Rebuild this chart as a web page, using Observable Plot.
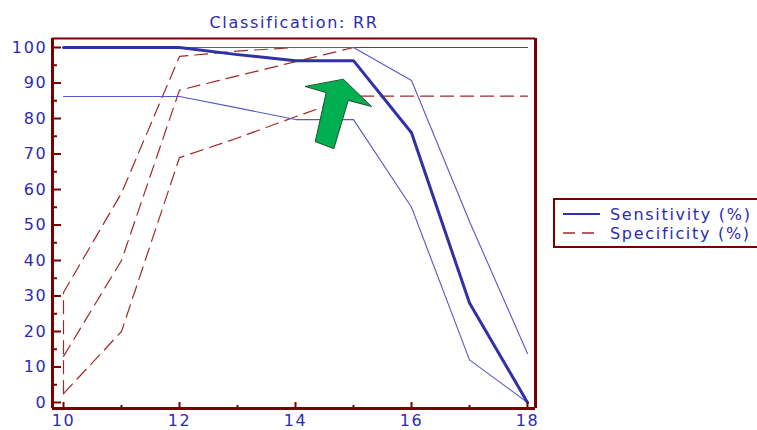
<!DOCTYPE html>
<html><head><meta charset="utf-8">
<script src="https://cdn.jsdelivr.net/npm/d3@7"></script>
<script src="https://cdn.jsdelivr.net/npm/@observablehq/plot@0.6"></script>
<style>
html,body{margin:0;padding:0;background:#fff;overflow:hidden;}
#wrap{position:relative;width:757px;height:430px;overflow:hidden;}
#legend{position:absolute;left:553px;top:198px;}
svg text{letter-spacing:1.7px;}
</style></head><body><div id="wrap"></div>
<script>
// ---- data ----
const titleText = ["Classification: RR"];
const thresholds = [10, 11, 12, 13, 14, 15, 16, 17, 18];
const sensitivity = [100, 100, 100, 98, 96.3, 96.3, 76, 28, 0];
const sensUpper   = [100, 100, 100, 100, 100, 100, 90.7, 51, 13.8];
const sensLower   = [86.2, 86.2, 86.2, 83, 79.7, 79.7, 55, 12, 0];
const specificity = [13, 40, 88, 92, 96, 100, 100, 100, 100];
const specLower   = [2.5, 20, 69, 74.5, 80.5, 86.3, 86.3, 86.3, 86.3];
const specUpperX  = [10, 10, 11, 12, 13, 14, 15, 16, 17, 18];
const specUpper   = [2.5, 31, 59, 97.5, 99, 100, 100, 100, 100, 100];
const xTicks = [10, 12, 14, 16, 18];
const xMinor = [11, 13, 15, 17];
const yTicks = [0, 10, 20, 30, 40, 50, 60, 70, 80, 90, 100];
const yMinor = [5, 15, 25, 35, 45, 55, 65, 75, 85, 95];
const legendLabels = ["Sensitivity (%)", "Specificity (%)"];
// annotation arrow outline (data units)
const arrowX = [14.83, 15.31, 14.91, 14.66, 14.34, 14.53, 14.17];
const arrowY = [91.0, 83.4, 85.1, 71.5, 73.5, 87.3, 89.0];

// ---- styling ----
const maroon = "#7a0000";
const textBlue = "#2b2bb2";
const thickBlue = "#3030a8";
const thinBlue = "#5858c4";
const dashRed = "#a02828";
const green = "#00b050";

const toRows = (xs, ys) => xs.map((x, i) => ({x, y: ys[i]}));
const pxX = 58, pxY = 3.55; // pixels per data unit
const xDomain = [10 - 11/pxX, 18 + 8/pxX];
const yDomain = [-1.69, 102.54];

const plot = Plot.plot({
  width: 757, height: 430,
  marginLeft: 52, marginRight: 222, marginTop: 38, marginBottom: 22,
  style: {fontFamily: "DejaVu Sans", fontSize: "16px", color: textBlue, background: "white", overflow: "visible"},
  x: {domain: xDomain, label: null},
  y: {domain: yDomain, label: null},
  marks: [
    Plot.line(toRows(specUpperX, specUpper), {x: "x", y: "y", stroke: dashRed, strokeWidth: 1.2, strokeDasharray: "13,7"}),
    Plot.line(toRows(thresholds, specificity), {x: "x", y: "y", stroke: dashRed, strokeWidth: 1.2, strokeDasharray: "13,7"}),
    Plot.line(toRows(thresholds, specLower), {x: "x", y: "y", stroke: dashRed, strokeWidth: 1.2, strokeDasharray: "13,7"}),
    Plot.line(toRows(thresholds, sensUpper), {x: "x", y: "y", stroke: thinBlue, strokeWidth: 1.1}),
    Plot.line(toRows(thresholds, sensLower), {x: "x", y: "y", stroke: thinBlue, strokeWidth: 1.1}),
    Plot.line(toRows(thresholds, sensitivity), {x: "x", y: "y", stroke: thickBlue, strokeWidth: 3}),
    Plot.line(toRows(arrowX, arrowY), {x: "x", y: "y", fill: green, stroke: "#1f4f2c", strokeWidth: 1, curve: "linear-closed"}),
    // frame
    Plot.ruleY([yDomain[1]], {stroke: maroon, strokeWidth: 2}),
    Plot.ruleX([xDomain[1]], {stroke: maroon, strokeWidth: 3}),
    Plot.ruleX([xDomain[0]], {stroke: maroon, strokeWidth: 3}),
    Plot.ruleY([yDomain[0]], {stroke: maroon, strokeWidth: 3}),
    // ticks (inward)
    Plot.ruleY(yTicks, {x1: xDomain[0], x2: xDomain[0] + 9/pxX, stroke: maroon, strokeWidth: 2}),
    Plot.ruleY(yMinor, {x1: xDomain[0], x2: xDomain[0] + 5/pxX, stroke: maroon, strokeWidth: 2}),
    Plot.ruleX(xTicks, {y1: yDomain[0], y2: yDomain[0] + 6/pxY, stroke: maroon, strokeWidth: 2}),
    Plot.ruleX(xMinor, {y1: yDomain[0], y2: yDomain[0] + 3/pxY, stroke: maroon, strokeWidth: 2}),
    // tick labels
    Plot.axisY(yTicks, {anchor: "left", tickSize: 0, tickPadding: 5, fill: textBlue, label: null}),
    Plot.axisX(xTicks, {anchor: "bottom", tickSize: 0, tickPadding: 6, fill: textBlue, label: null}),
    // title
    Plot.text(titleText, {text: d => d, frameAnchor: "top", dy: -16, lineAnchor: "middle", fill: textBlue})
  ]
});
const wrap = document.getElementById("wrap");
wrap.appendChild(plot);

// legend
const lg = d3.select(wrap).append("svg").attr("id", "legend").attr("width", 210).attr("height", 52)
  .style("font-family", "DejaVu Sans").style("font-size", "16px");
lg.append("rect").attr("x", 1).attr("y", 1).attr("width", 230).attr("height", 48)
  .attr("fill", "white").attr("stroke", maroon).attr("stroke-width", 2);
const rowsY = [16, 35];
lg.append("line").attr("x1", 10).attr("x2", 47).attr("y1", rowsY[0]).attr("y2", rowsY[0])
  .attr("stroke", thickBlue).attr("stroke-width", 2);
lg.append("line").attr("x1", 10).attr("x2", 47).attr("y1", rowsY[1]).attr("y2", rowsY[1])
  .attr("stroke", dashRed).attr("stroke-width", 1.3).attr("stroke-dasharray", "12,7");
legendLabels.forEach((t, i) => {
  lg.append("text").attr("x", 57).attr("y", rowsY[i]).attr("dy", "0.35em")
    .attr("fill", textBlue).text(t);
});
</script></body></html>
